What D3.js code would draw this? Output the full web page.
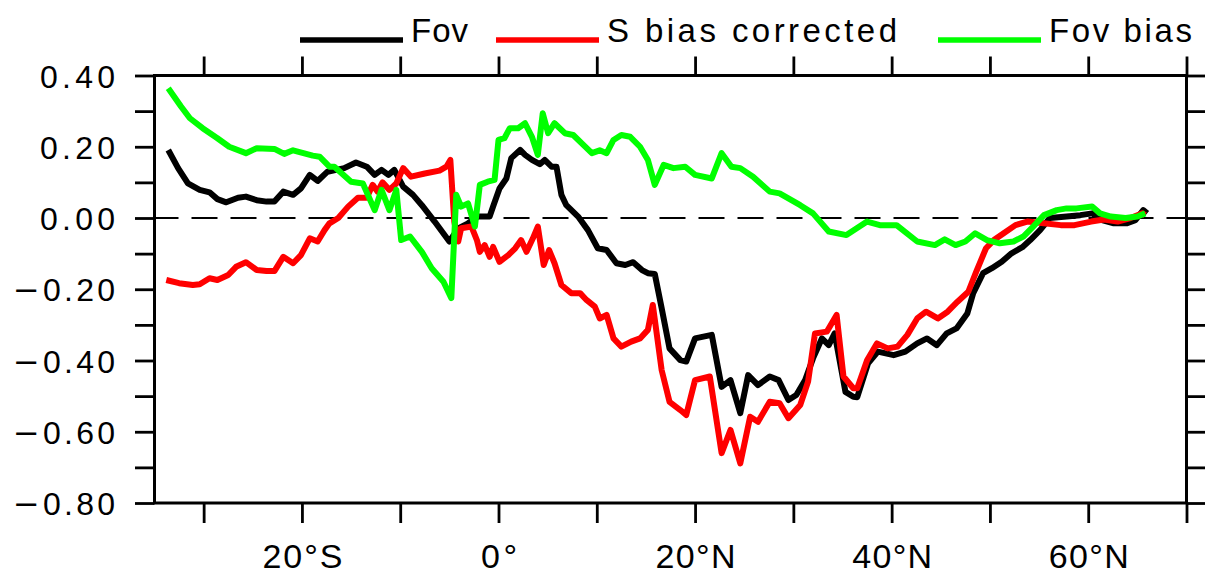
<!DOCTYPE html>
<html>
<head>
<meta charset="utf-8">
<script src="https://cdn.jsdelivr.net/npm/d3@7"></script>
<style>
  html, body { margin: 0; padding: 0; background: #fff; }
  svg { display: block; }
  text { font-family: "Liberation Sans", Arial, sans-serif; fill: #000; }
</style>
</head>
<body>
<div id="chart"></div>
<script>
// Fov (black)
const fovLat = [-33.6, -32.6, -31.6, -30.4, -29.4, -28.6, -27.7, -26.5, -25.7, -24.6, -23.6, -22.8, -21.9, -20.9, -20.1, -19.2, -18.4, -17.4, -16.5, -15.7, -14.5, -13.4, -12.6, -11.9, -11.2, -10.6, -9.7, -8.7, -7.8, -6.5, -5.0, -4.1, -3.1, -2.1, -0.9, -0.55, 0.1, 0.8, 1.3, 2.2, 2.7, 3.4, 4.2, 4.7, 5.4, 5.9, 6.4, 6.9, 8.1, 9.1, 10.1, 11.0, 12.0, 12.9, 13.7, 14.6, 15.2, 15.9, 16.6, 17.4, 18.5, 19.1, 20.0, 21.7, 22.7, 23.6, 24.6, 25.4, 26.4, 27.6, 28.5, 29.5, 30.3, 31.2, 32.0, 32.9, 33.6, 34.2, 35.3, 36.1, 36.5, 37.6, 38.6, 40.2, 41.4, 42.6, 43.6, 44.6, 45.6, 46.6, 47.7, 48.3, 49.3, 50.2, 51.2, 52.2, 53.3, 54.1, 55.1, 56.1, 57.8, 59.2, 60.4, 61.4, 62.6, 63.9, 64.8, 65.6, 66.0];
const fovVal = [0.191, 0.14, 0.097, 0.079, 0.072, 0.053, 0.044, 0.057, 0.06, 0.05, 0.046, 0.046, 0.074, 0.065, 0.083, 0.121, 0.104, 0.13, 0.135, 0.14, 0.156, 0.144, 0.121, 0.135, 0.121, 0.135, 0.088, 0.065, 0.036, -0.01, -0.066, -0.029, -0.015, 0.004, 0.004, 0.032, 0.083, 0.111, 0.168, 0.191, 0.177, 0.163, 0.151, 0.163, 0.144, 0.144, 0.065, 0.036, 0.004, -0.034, -0.085, -0.09, -0.127, -0.132, -0.124, -0.146, -0.155, -0.157, -0.253, -0.366, -0.399, -0.403, -0.338, -0.328, -0.474, -0.455, -0.548, -0.441, -0.469, -0.445, -0.455, -0.511, -0.497, -0.455, -0.394, -0.338, -0.357, -0.324, -0.488, -0.502, -0.503, -0.408, -0.375, -0.385, -0.375, -0.352, -0.338, -0.357, -0.324, -0.31, -0.268, -0.211, -0.155, -0.141, -0.123, -0.099, -0.082, -0.062, -0.034, 0, 0.004, 0.008, 0.013, -0.006, -0.015, -0.015, -0.006, 0.022, 0.013];

// S bias corrected (red)
const sbcLat = [-33.8, -32.5, -31.1, -30.4, -29.4, -28.6, -27.5, -26.7, -25.7, -24.6, -23.6, -22.8, -21.9, -20.9, -20.1, -19.2, -18.4, -17.7, -17.2, -16.3, -15.3, -14.3, -13.4, -12.8, -12.3, -11.8, -11.1, -10.4, -9.7, -8.9, -7.5, -6.0, -5.3, -4.9, -4.5, -4.1, -3.8, -2.75, -2.2, -1.9, -1.4, -0.9, -0.55, 0.1, 1.0, 1.7, 2.3, 2.85, 3.5, 4.0, 4.6, 5.15, 5.7, 6.4, 7.4, 8.3, 8.95, 9.8, 10.3, 11.0, 11.7, 12.5, 13.5, 14.4, 15.2, 15.7, 16.6, 17.4, 18.5, 19.1, 20.0, 21.5, 22.7, 23.6, 24.6, 25.6, 26.4, 27.6, 28.6, 29.5, 30.7, 31.5, 32.2, 33.4, 34.4, 35.1, 36.1, 36.5, 37.5, 38.5, 39.6, 40.6, 41.6, 42.6, 43.5, 44.7, 45.7, 46.7, 47.8, 48.6, 49.6, 50.4, 51.4, 52.6, 53.8, 55.5, 57.2, 58.6, 60.3, 61.6, 63.0, 64.3, 65.5, 65.8];
const sbcVal = [-0.174, -0.183, -0.188, -0.186, -0.169, -0.174, -0.16, -0.137, -0.124, -0.146, -0.149, -0.149, -0.109, -0.127, -0.104, -0.057, -0.066, -0.034, -0.015, 0, 0.032, 0.057, 0.057, 0.093, 0.074, 0.1, 0.079, 0.097, 0.14, 0.116, 0.125, 0.133, 0.144, 0.163, -0.01, -0.066, -0.029, -0.024, -0.062, -0.095, -0.076, -0.109, -0.081, -0.123, -0.104, -0.085, -0.062, -0.095, -0.057, -0.024, -0.132, -0.09, -0.127, -0.188, -0.211, -0.211, -0.23, -0.249, -0.282, -0.272, -0.338, -0.361, -0.347, -0.338, -0.314, -0.244, -0.427, -0.516, -0.539, -0.553, -0.455, -0.445, -0.66, -0.595, -0.689, -0.558, -0.572, -0.516, -0.52, -0.562, -0.525, -0.459, -0.324, -0.319, -0.272, -0.445, -0.478, -0.478, -0.399, -0.352, -0.366, -0.361, -0.328, -0.282, -0.263, -0.282, -0.263, -0.235, -0.207, -0.151, -0.085, -0.062, -0.043, -0.02, -0.01, -0.015, -0.02, -0.02, -0.01, -0.004, -0.01, 0, 0.013, 0.008];

// Fov bias (green)
const fovBiasLat = [-33.6, -32.3, -31.4, -30.1, -28.6, -27.4, -25.7, -24.6, -22.8, -21.8, -20.9, -18.9, -18.2, -17.2, -16.7, -15.0, -13.8, -12.6, -11.9, -11.1, -10.4, -9.9, -9.0, -7.8, -6.8, -5.6, -4.8, -4.3, -3.8, -3.1, -2.4, -1.9, -1.1, -0.4, 0.0, 0.6, 1.15, 2.0, 2.7, 3.4, 4.0, 4.5, 5.05, 5.7, 6.75, 7.6, 8.45, 9.5, 10.3, 11.0, 11.7, 12.5, 13.4, 14.4, 15.2, 15.9, 16.8, 17.8, 19.0, 20.0, 21.7, 22.7, 23.7, 24.6, 25.9, 27.6, 28.6, 30.7, 32.0, 33.6, 35.4, 37.5, 38.8, 40.5, 42.6, 44.4, 45.4, 46.5, 47.5, 48.5, 49.7, 51.0, 52.4, 53.4, 54.4, 55.5, 56.8, 57.8, 58.8, 60.4, 61.2, 62.3, 63.8, 65.0, 65.8];
const fovBiasVal = [0.364, 0.313, 0.28, 0.252, 0.224, 0.2, 0.182, 0.196, 0.194, 0.18, 0.19, 0.175, 0.172, 0.144, 0.144, 0.102, 0.097, 0.022, 0.079, 0.022, 0.079, -0.062, -0.052, -0.095, -0.141, -0.179, -0.225, 0.065, 0.032, 0.041, -0.024, 0.093, 0.102, 0.107, 0.219, 0.224, 0.252, 0.252, 0.266, 0.228, 0.177, 0.294, 0.238, 0.266, 0.238, 0.233, 0.21, 0.182, 0.19, 0.182, 0.219, 0.233, 0.228, 0.2, 0.163, 0.093, 0.149, 0.14, 0.144, 0.121, 0.111, 0.182, 0.144, 0.14, 0.116, 0.074, 0.069, 0.036, 0.013, -0.038, -0.048, -0.01, -0.02, -0.02, -0.066, -0.076, -0.06, -0.076, -0.066, -0.043, -0.062, -0.071, -0.066, -0.052, -0.024, 0.008, 0.022, 0.027, 0.027, 0.032, 0.013, 0.004, 0, 0.004, 0.013];

const seriesNames = ['Fov', 'S bias corrected', 'Fov bias'];
const seriesColors = ['#000000', '#ff0000', '#00ff00'];

const latTicks = [-30, -20, -10, 0, 10, 20, 30, 40, 50, 60, 70];
const latLabels = {'-20': '20°S', '0': '0°', '20': '20°N', '40': '40°N', '60': '60°N'};
const valTicks = [-0.8, -0.7, -0.6, -0.5, -0.4, -0.3, -0.2, -0.1, 0, 0.1, 0.2, 0.3, 0.4];
const valLabels = {'-0.8': '−0.80', '-0.6': '−0.60', '-0.4': '−0.40', '-0.2': '−0.20', '0': '0.00', '0.2': '0.20', '0.4': '0.40'};

const W = 1205, H = 575;
const plot = { left: 154.5, right: 1186.5, top: 75.5, bottom: 503 };

const svg = d3.select('#chart').append('svg').attr('width', W).attr('height', H);

const x = d3.scaleLinear().domain([-35, 70]).range([plot.left, plot.right]);
const y = d3.scaleLinear().domain([-0.8, 0.4]).range([plot.bottom, plot.top]);

// rough glyph widths of the original font, used to stretch labels to size
const charW = { '−': 27, '.': 15, '°': 16, 'S': 24, 'N': 24 };
const labelWidth = s => Array.from(s).reduce((a, c) => a + (charW[c] || 20), 0);

// zero line
svg.append('line')
  .attr('x1', plot.left).attr('x2', plot.right)
  .attr('y1', y(0)).attr('y2', y(0))
  .attr('stroke', '#000').attr('stroke-width', 2)
  .attr('stroke-dasharray', '26 13').attr('stroke-dashoffset', 2);

// curves
const line = d3.line().x(d => x(d[0])).y(d => y(d[1]));
const series = [
  d3.zip(fovLat, fovVal),
  d3.zip(sbcLat, sbcVal),
  d3.zip(fovBiasLat, fovBiasVal)
];
series.forEach((s, i) => {
  svg.append('path')
    .datum(s)
    .attr('d', line)
    .attr('fill', 'none')
    .attr('stroke', seriesColors[i])
    .attr('stroke-width', 6)
    .attr('stroke-linejoin', 'round');
});

// axes, ticks outward on all four sides
const tickStyle = g => {
  g.select('.domain').remove();
  g.selectAll('.tick line').attr('stroke', '#000').attr('stroke-width', 2.8);
};

svg.append('g')
  .attr('transform', `translate(${plot.left},0)`)
  .call(d3.axisLeft(y).tickValues(valTicks).tickSize(19.5).tickPadding(20)
    .tickFormat(d => valLabels[String(+d.toFixed(1))] || ''))
  .call(tickStyle)
  .call(g => g.selectAll('.tick text').each(function () {
    const t = d3.select(this);
    const s = t.text();
    if (!s) return;
    t.attr('dy', '0.36em')
      .style('font-size', '32px')
      .attr('textLength', labelWidth(s))
      .attr('lengthAdjust', 'spacing');
    if (s[0] === '−') {
      // the wide minus of the original, taken from DejaVu
      t.text(null);
      t.append('tspan').style('font-family', '"DejaVu Sans"').text('−');
      t.append('tspan').text(s.slice(1));
    }
  }));

svg.append('g')
  .attr('transform', `translate(${plot.right},0)`)
  .call(d3.axisRight(y).tickValues(valTicks).tickSize(19).tickFormat(''))
  .call(tickStyle);

svg.append('g')
  .attr('transform', `translate(0,${plot.bottom})`)
  .call(d3.axisBottom(x).tickValues(latTicks).tickSize(20)
    .tickFormat(d => latLabels[String(d)] || ''))
  .call(tickStyle)
  .call(g => g.selectAll('.tick text')
    .attr('y', 65.3).attr('dy', 0)
    .style('font-size', '34px')
    .attr('textLength', function () { const t = this.textContent; return t ? labelWidth(t) : null; })
    .attr('lengthAdjust', 'spacing'));

svg.append('g')
  .attr('transform', `translate(0,${plot.top})`)
  .call(d3.axisTop(x).tickValues(latTicks).tickSize(19).tickFormat(''))
  .call(tickStyle);

// frame
svg.append('rect')
  .attr('x', plot.left).attr('y', plot.top)
  .attr('width', plot.right - plot.left).attr('height', plot.bottom - plot.top)
  .attr('fill', 'none').attr('stroke', '#000').attr('stroke-width', 3);

// legend across the top
const legendX = [300, 496, 938];
const legendTextW = [57, 290, 143];
const legend = svg.append('g').attr('class', 'legend');
seriesNames.forEach((name, i) => {
  legend.append('line')
    .attr('x1', legendX[i]).attr('x2', legendX[i] + 103)
    .attr('y1', 40).attr('y2', 40)
    .attr('stroke', seriesColors[i]).attr('stroke-width', 5.5);
  legend.append('text')
    .attr('x', legendX[i] + 111).attr('y', 41.5)
    .style('font-size', '33px')
    .attr('textLength', legendTextW[i])
    .attr('lengthAdjust', 'spacing')
    .text(name);
});
</script>
</body>
</html>
